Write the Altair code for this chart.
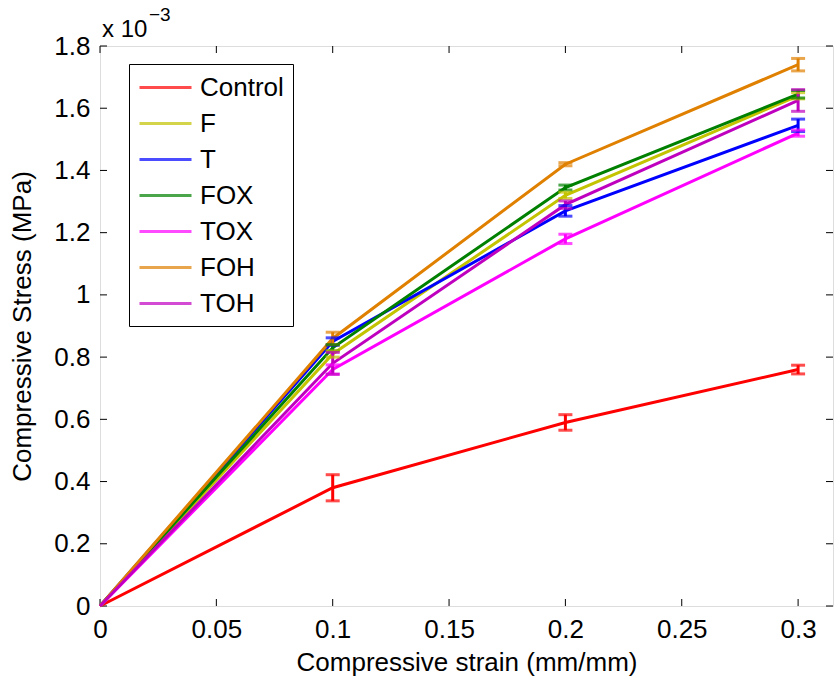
import altair as alt
import pandas as pd

# ---- data (stress values in units of 1e-3 MPa) ----
strain = [0.0, 0.1, 0.2, 0.3]
series_names = ["Control", "F", "T", "FOX", "TOX", "FOH", "TOH"]
series_colors = ["#ff0000", "#c3c300", "#0000ff", "#008000", "#ff00ff", "#e08000", "#bf00bf"]

control = [0.0, 0.38, 0.59, 0.76]
control_err = [0.0, 0.042, 0.025, 0.014]
f_vals = [0.0, 0.81, 1.32, 1.64]
f_err = [0.0, 0.010, 0.010, 0.010]
t_vals = [0.0, 0.85, 1.27, 1.545]
t_err = [0.0, 0.012, 0.017, 0.020]
fox = [0.0, 0.83, 1.345, 1.645]
fox_err = [0.0, 0.010, 0.008, 0.012]
tox = [0.0, 0.76, 1.18, 1.52]
tox_err = [0.0, 0.015, 0.015, 0.010]
foh = [0.0, 0.86, 1.42, 1.74]
foh_err = [0.0, 0.020, 0.005, 0.020]
toh = [0.0, 0.78, 1.29, 1.625]
toh_err = [0.0, 0.035, 0.012, 0.035]

x_ticks = [0.0, 0.05, 0.1, 0.15, 0.2, 0.25, 0.3]
y_ticks = [0.0, 0.2, 0.4, 0.6, 0.8, 1.0, 1.2, 1.4, 1.6, 1.8]

values = [control, f_vals, t_vals, fox, tox, foh, toh]
errors = [control_err, f_err, t_err, fox_err, tox_err, foh_err, toh_err]

rows = []
for i, name in enumerate(series_names):
    for x, y, e in zip(strain, values[i], errors[i]):
        rows.append({"series": name, "order": i, "strain": x, "stress": y,
                     "low": y - e, "high": y + e, "err": e})
df = pd.DataFrame(rows)
df_err = df[df["err"] > 0]

W, H = 733, 560
FONT = "Liberation Sans"
FS = 26

xscale = alt.Scale(domain=[0, 0.315], nice=False, zero=False)
yscale = alt.Scale(domain=[0, 1.8], nice=False)
cscale = alt.Scale(domain=series_names, range=series_colors)

legend = alt.Legend(
    title=None, orient="none", legendX=29, legendY=18,
    symbolType="M-1,0L3,0", symbolSize=676, symbolStrokeWidth=3,
    labelFont=FONT, labelFontSize=FS, labelColor="black", labelOffset=33,
    rowPadding=8, padding=9, strokeColor="black", fillColor="white",
)

base = alt.Chart(df)

lines = base.mark_line(strokeWidth=3).encode(
    x=alt.X("strain:Q", scale=xscale,
            axis=alt.Axis(values=x_ticks, format="~g", ticks=False, domain=False, grid=False,
                          labelFlush=False,
                          labelFont=FONT, labelFontSize=FS, labelColor="black", labelPadding=10,
                          title="Compressive strain (mm/mm)", titleFont=FONT, titleFontSize=FS,
                          titleFontWeight="normal", titleColor="black", titlePadding=7)),
    y=alt.Y("stress:Q", scale=yscale,
            axis=alt.Axis(values=y_ticks, format="~g", ticks=False, domain=False, grid=False,
                          labelFlush=False,
                          labelFont=FONT, labelFontSize=FS, labelColor="black", labelPadding=10,
                          title="Compressive Stress (MPa)", titleFont=FONT, titleFontSize=FS,
                          titleFontWeight="normal", titleColor="black", titlePadding=18)),
    color=alt.Color("series:N", scale=cscale, legend=legend, sort=series_names),
    detail="series:N",
    order=alt.Order("strain:Q"),
)

err_base = alt.Chart(df_err)
err_rules = err_base.mark_rule(strokeWidth=3).encode(
    x=alt.X("strain:Q", scale=xscale),
    y=alt.Y("low:Q", scale=yscale),
    y2="high:Q",
    color=alt.Color("series:N", scale=cscale, legend=legend, sort=series_names),
)
caps_low = err_base.mark_tick(orient="horizontal", size=14, thickness=3).encode(
    x=alt.X("strain:Q", scale=xscale),
    y=alt.Y("low:Q", scale=yscale),
    color=alt.Color("series:N", scale=cscale, legend=legend, sort=series_names),
)
caps_high = err_base.mark_tick(orient="horizontal", size=14, thickness=3).encode(
    x=alt.X("strain:Q", scale=xscale),
    y=alt.Y("high:Q", scale=yscale),
    color=alt.Color("series:N", scale=cscale, legend=legend, sort=series_names),
)

# inside tick marks (MATLAB style)
xt = pd.DataFrame({"t": x_ticks})
yt = pd.DataFrame({"t": y_ticks})
tick_len = 7
xt_bottom = alt.Chart(xt).mark_rule(color="black", strokeWidth=1).encode(
    x=alt.X("t:Q", scale=xscale), y=alt.value(H), y2=alt.value(H - tick_len))
xt_top = alt.Chart(xt).mark_rule(color="black", strokeWidth=1).encode(
    x=alt.X("t:Q", scale=xscale), y=alt.value(0), y2=alt.value(tick_len))
yt_left = alt.Chart(yt).mark_rule(color="black", strokeWidth=1).encode(
    y=alt.Y("t:Q", scale=yscale), x=alt.value(0), x2=alt.value(tick_len))
yt_right = alt.Chart(yt).mark_rule(color="black", strokeWidth=1).encode(
    y=alt.Y("t:Q", scale=yscale), x=alt.value(W), x2=alt.value(W - tick_len))

exp_base = alt.Chart(pd.DataFrame({"a": [0]}))
exp_main = exp_base.mark_text(text="x 10", font=FONT, fontSize=24, align="left",
                              baseline="alphabetic", color="black").encode(
    x=alt.value(2), y=alt.value(-9))
exp_sup = exp_base.mark_text(text="\u22123", font=FONT, fontSize=19, align="left",
                             baseline="alphabetic", color="black").encode(
    x=alt.value(49), y=alt.value(-25))

chart = alt.layer(
    xt_bottom, xt_top, yt_left, yt_right,
    lines, err_rules, caps_low, caps_high, exp_main, exp_sup,
).properties(
    width=W, height=H,
    padding={"left": 100, "top": 46, "right": 2, "bottom": 73},
    autosize=alt.AutoSizeParams(type="none"),
).configure_view(
    stroke="black", strokeWidth=1.5,
).configure(background="white")

chart.save("out.html", embed_options={"renderer": "svg", "actions": False})
